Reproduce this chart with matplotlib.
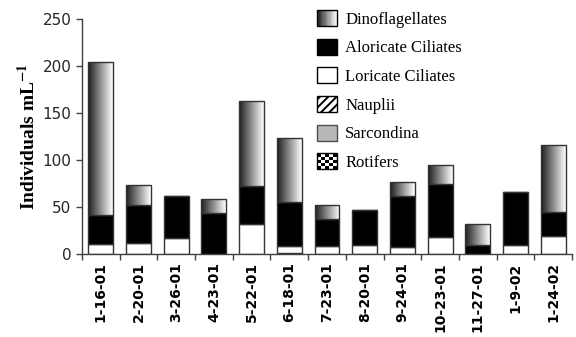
import numpy as np
import matplotlib
matplotlib.use("Agg")
import matplotlib.pyplot as plt
from matplotlib.patches import Rectangle
from matplotlib.legend_handler import HandlerBase

dates = ["1-16-01", "2-20-01", "3-26-01", "4-23-01", "5-22-01", "6-18-01",
         "7-23-01", "8-20-01", "9-24-01", "10-23-01", "11-27-01", "1-9-02",
         "1-24-02"]
rotifers = [0, 0, 0, 0, 0, 0, 0, 0, 0, 0, 0, 0, 0]
sarcondina = [0, 0, 0, 0, 0, 0, 0, 0, 0, 0, 0, 0, 0]
nauplii = [0, 0, 0, 0, 0, 1, 0, 0, 0, 0, 0, 0, 0]
loricate = [11, 12, 17, 0, 32, 8, 8, 10, 7, 18, 0, 10, 19]
aloricate = [31, 40, 45, 44, 40, 46, 29, 37, 55, 56, 10, 56, 26]
dino = [162, 21, 0, 15, 91, 68, 15, 0, 15, 21, 22, 0, 71]

plt.rcParams.update({
    "font.family": "DejaVu Sans",
    "mathtext.fontset": "stix",
    "hatch.linewidth": 1.4,
})

fig = plt.figure(figsize=(5.76, 3.37), dpi=100)
ax = fig.add_axes([82 / 576, 1 - 254 / 337, 490 / 576, 235 / 337])

x = np.arange(len(dates))
w = 0.66
edge = dict(edgecolor="0.2", linewidth=1.0)
bottom = np.zeros(len(dates))

ax.bar(x, rotifers, w, bottom=bottom, facecolor="white", hatch="++", **edge)
bottom += rotifers
ax.bar(x, sarcondina, w, bottom=bottom, facecolor="0.72", **edge)
bottom += sarcondina
ax.bar(x, nauplii, w, bottom=bottom, facecolor="white", hatch="////", **edge)
bottom += nauplii
ax.bar(x, loricate, w, bottom=bottom, facecolor="white", **edge)
bottom += loricate
ax.bar(x, aloricate, w, bottom=bottom, facecolor="black", **edge)
bottom += aloricate
dbars = ax.bar(x, dino, w, bottom=bottom, facecolor="none", zorder=3, **edge)

# horizontal gray gradient inside each dinoflagellate segment
grad = np.linspace(0.12, 1.0, 64).reshape(1, -1)
for b, v in zip(dbars, dino):
    if v <= 0:
        continue
    x0, y0 = b.get_x(), b.get_y()
    im = ax.imshow(grad, cmap="gray", vmin=0, vmax=1, aspect="auto",
                   extent=[x0, x0 + b.get_width(), y0, y0 + b.get_height()],
                   interpolation="bilinear", zorder=2)
    im.set_clip_path(b)

ax.set_xlim(-0.5, len(dates) - 0.5)
ax.set_ylim(0, 250)
ax.set_yticks([0, 50, 100, 150, 200, 250])
ax.set_xticks(x)
ax.set_xticklabels(dates, rotation=90, fontsize=10, fontweight="bold")
ax.set_xticks(np.arange(-0.5, len(dates), 1.0), minor=True)
ax.tick_params(axis="x", which="major", length=0, pad=6)
ax.tick_params(axis="x", which="minor", length=4, width=1, color="0.25",
               direction="out")
ax.tick_params(axis="y", labelsize=11, length=4, width=1, color="0.25",
               labelcolor="0.15", direction="out")
for s in ["top", "right"]:
    ax.spines[s].set_visible(False)
for s in ["left", "bottom"]:
    ax.spines[s].set_color("0.25")
    ax.spines[s].set_linewidth(1.0)

ax.set_ylabel(r"Individuals mL$^{\mathbf{-1}}$", family="Liberation Serif",
              fontweight="bold", fontsize=14)
ax.yaxis.set_label_coords(-0.088, 0.5)


class GradientHandler(HandlerBase):
    def create_artists(self, legend, orig, xd, yd, width, height, fontsize, trans):
        n = 16
        arts = []
        for i in range(n):
            c = str(0.12 + 0.88 * i / (n - 1))
            arts.append(Rectangle((-xd + i * width / n, -yd), width / n, height,
                                  facecolor=c, edgecolor="none", transform=trans))
        arts.append(Rectangle((-xd, -yd), width, height, facecolor="none",
                              edgecolor="black", lw=1.0, transform=trans))
        return arts


class CheckerHandler(HandlerBase):
    def create_artists(self, legend, orig, xd, yd, width, height, fontsize, trans):
        n = 5
        arts = []
        for i in range(n):
            for j in range(n):
                c = "black" if (i + j) % 2 == 0 else "white"
                arts.append(Rectangle((-xd + i * width / n, -yd + j * height / n),
                                      width / n, height / n, facecolor=c,
                                      edgecolor="none", transform=trans))
        arts.append(Rectangle((-xd, -yd), width, height, facecolor="none",
                              edgecolor="black", lw=1.0, transform=trans))
        return arts


h_dino = Rectangle((0, 0), 1, 1)
h_rot = Rectangle((0, 0), 1, 1)
h_alor = Rectangle((0, 0), 1, 1, facecolor="black", edgecolor="black")
h_lor = Rectangle((0, 0), 1, 1, facecolor="white", edgecolor="black")
h_naup = Rectangle((0, 0), 1, 1, facecolor="white", edgecolor="black", hatch="////")
h_sarc = Rectangle((0, 0), 1, 1, facecolor="0.72", edgecolor="0.3")

fig.legend([h_dino, h_alor, h_lor, h_naup, h_sarc, h_rot],
           ["Dinoflagellates", "Aloricate Ciliates", "Loricate Ciliates",
            "Nauplii", "Sarcondina", "Rotifers"],
           handler_map={h_dino: GradientHandler(), h_rot: CheckerHandler()},
           loc="upper left", bbox_to_anchor=(317 / 576, 1 - 10 / 337),
           frameon=False, borderpad=0, borderaxespad=0,
           prop={"family": "Liberation Serif", "size": 12},
           handlelength=1.2, handleheight=1.1, handletextpad=0.5,
           labelspacing=0.66)

fig.savefig("out.png", dpi=100)
